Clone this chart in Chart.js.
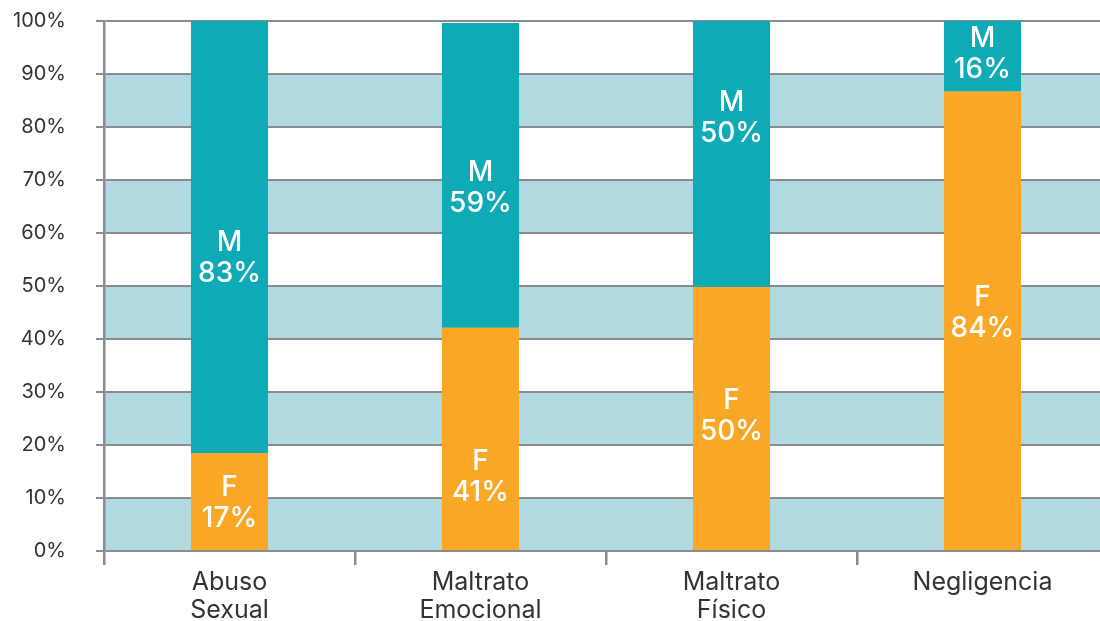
<!DOCTYPE html>
<html>
<head>
<meta charset="utf-8">
<script src="https://cdn.jsdelivr.net/npm/chart.js@4.4.0/dist/chart.umd.min.js"></script>
<style>
  html, body { margin: 0; padding: 0; background: #fff; overflow: hidden; }
  #wrap { width: 1108px; height: 621px; }
</style>
</head>
<body>
<div id="wrap"><canvas id="chart"></canvas></div>
<script>
// Categories and values
const categories = [['Abuso', 'Sexual'], ['Maltrato', 'Emocional'], ['Maltrato', 'Físico'], 'Negligencia'];
const femaleValues = [18.5, 42.1, 49.8, 86.7];
const maleValues = [81.5, 57.5, 50.2, 13.3];
const femaleLabels = ['17%', '41%', '50%', '84%'];
const maleLabels = ['83%', '59%', '50%', '16%'];
const yTicks = [0, 10, 20, 30, 40, 50, 60, 70, 80, 90, 100];

const TEAL = '#0eaab6';
const ORANGE = '#f9a726';
const BAND = '#b0dae0';
const GRID = '#8b8b8f';
const FONT = 'Inter, "Open Sans", sans-serif';

// light blue bands behind the bars, every other 10% step
const bandPlugin = {
    id: 'bands',
    beforeDraw(chart) {
        const { ctx, chartArea, scales } = chart;
        ctx.save();
        ctx.fillStyle = BAND;
        for (let i = 0; i < yTicks.length - 1; i += 2) {
            const top = scales.y.getPixelForValue(yTicks[i + 1]);
            const bottom = scales.y.getPixelForValue(yTicks[i]);
            ctx.fillRect(chartArea.left, top, chartArea.right - chartArea.left, bottom - top);
        }
        ctx.restore();
    }
};

// "F 17%" style labels inside the bars
const segmentLabelPlugin = {
    id: 'segmentLabels',
    afterDatasetsDraw(chart, args, opts) {
        const { ctx, scales } = chart;
        ctx.save();
        ctx.fillStyle = '#fff';
        ctx.font = '500 28px ' + FONT;
        ctx.textAlign = 'center';
        ctx.textBaseline = 'middle';
        chart.data.datasets.forEach((ds, di) => {
            const meta = chart.getDatasetMeta(di);
            meta.data.forEach((bar, i) => {
                const yc = scales.y.getPixelForValue(opts.at[di][i]);
                ctx.fillText(ds.label, bar.x, yc - 14);
                ctx.fillText(ds.valueLabels[i], bar.x, yc + 17);
            });
        });
        ctx.restore();
    }
};

new Chart(document.getElementById('chart'), {
    type: 'bar',
    data: {
        labels: categories,
        datasets: [
            { label: 'F', data: femaleValues, valueLabels: femaleLabels, backgroundColor: ORANGE },
            { label: 'M', data: maleValues, valueLabels: maleLabels, backgroundColor: TEAL }
        ]
    },
    options: {
        responsive: true,
        maintainAspectRatio: false,
        animation: false,
        barPercentage: 0.307,
        categoryPercentage: 1,
        layout: { padding: { top: 21, right: 0, left: 0, bottom: 0 } },
        plugins: {
            legend: { display: false },
            tooltip: { enabled: false },
            // where each label pair sits, in % units
            segmentLabels: {
                at: [[9.4, 14.2, 25.7, 45.1], [55.5, 68.7, 82, 94]]
            }
        },
        scales: {
            x: {
                stacked: true,
                grid: { offset: true, drawOnChartArea: false, drawTicks: true, tickLength: 14, color: GRID, lineWidth: 2.5 },
                border: { display: false },
                ticks: { color: '#333', font: { family: FONT, size: 25, lineHeight: 1.12 }, padding: 3, maxRotation: 0 },
                afterFit(scale) { scale.height = 70; scale.paddingTop = 0; scale.paddingBottom = 0; }
            },
            y: {
                stacked: true,
                min: 0,
                max: 100,
                afterBuildTicks(scale) { scale.ticks = yTicks.map(v => ({ value: v })); },
                grid: { color: GRID, lineWidth: 2, tickLength: 8 },
                border: { display: true, color: GRID, width: 2.5 },
                ticks: { color: '#333', font: { family: FONT, size: 20 }, padding: 30, callback: v => v + '%' },
                afterFit(scale) { scale.width = 104; scale.paddingTop = 0; scale.paddingBottom = 0; }
            }
        }
    },
    plugins: [bandPlugin, segmentLabelPlugin]
});
</script>
</body>
</html>
